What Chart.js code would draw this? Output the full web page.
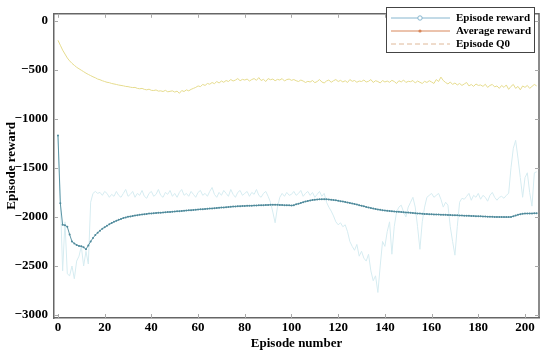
<!DOCTYPE html>
<html>
<head>
<meta charset="utf-8">
<script src="https://cdn.jsdelivr.net/npm/chart.js@4.4.1/dist/chart.umd.min.js"></script>
<style>
  body { margin: 0; background: #fff; }
  #wrap { width: 550px; height: 354px; }
</style>
</head>
<body>
<div id="wrap"><canvas id="chart" width="550" height="354"></canvas></div>
<script>
// Episodes 0..205
const episodes = Array.from({ length: 206 }, (_, i) => i);

const episodeReward = [
  -1170, -1800, -2550, -2050, -2580, -2600, -2500, -2630, -2450, -2400, -2300,
  -2500, -2350, -2480, -1850, -1760, -1740, -1760, -1750, -1780, -1740,
  -1760, -1800, -1770, -1790, -1740, -1780, -1800, -1760, -1720, -1790,
  -1770, -1740, -1800, -1760, -1780, -1730, -1790, -1810, -1760, -1740,
  -1790, -1770, -1720, -1780, -1800, -1750, -1770, -1730, -1790, -1760,
  -1800, -1750, -1720, -1780, -1760, -1790, -1740, -1770, -1800, -1750,
  -1730, -1780, -1760, -1790, -1740, -1700, -1770, -1800, -1750, -1780,
  -1730, -1760, -1790, -1720, -1770, -1800, -1750, -1730, -1780, -1760,
  -1740, -1790, -1750, -1770, -1720, -1780, -1800, -1760, -1740, -1790,
  -1850, -1950, -2060, -1900, -1800, -1760, -1790, -1750, -1780, -1770,
  -1740, -1780, -1760, -1730, -1790, -1760, -1740, -1780, -1750, -1800,
  -1770, -1740, -1790, -1760, -1850, -1900, -1940, -1990, -2050, -2080,
  -2060, -2100, -2080, -2150, -2250, -2300, -2340, -2280, -2400, -2350,
  -2420, -2450, -2380, -2550, -2650, -2600, -2770, -2500, -2250, -2300,
  -2150, -2050, -2380, -2100, -1950, -1900, -1880, -1950, -2000, -1900,
  -1850, -1800, -1900, -2100, -2330, -2050, -1900, -1800, -1780, -1760,
  -1800, -1780, -1760, -1820, -1900, -1850, -1880, -2100, -2250, -2390,
  -2100, -1850, -1810, -1820, -1790, -1760, -1830, -1780, -1800, -1760,
  -1820, -1780, -1800, -1840, -1780, -1750, -1800, -1830, -1800, -1790,
  -1810, -1780, -1760, -1500, -1300, -1220, -1400, -1600, -1800, -1600,
  -1550, -1750, -1890, -1550, -1540
];

const averageReward = [
  -1170, -1860, -2080, -2085, -2100, -2180, -2250, -2270, -2285, -2295, -2300,
  -2310, -2330, -2290, -2250, -2215, -2185, -2160, -2140, -2120, -2105,
  -2090, -2075, -2062, -2050, -2040, -2030, -2020, -2012, -2005, -1998,
  -1995, -1990, -1986, -1982, -1978, -1975, -1972, -1969, -1966, -1964,
  -1962, -1960, -1958, -1957, -1955, -1953, -1951, -1949, -1947, -1945,
  -1943, -1941, -1939, -1937, -1935, -1933, -1931, -1929, -1927, -1925,
  -1923, -1921, -1919, -1917, -1915, -1913, -1911, -1909, -1907, -1905,
  -1903, -1901, -1899, -1897, -1895, -1893, -1891, -1890, -1889, -1888,
  -1887, -1886, -1885, -1884, -1883, -1882, -1881, -1880, -1879, -1878,
  -1877, -1876, -1876, -1877, -1878, -1879, -1880, -1881, -1882, -1884,
  -1880, -1872, -1865, -1857, -1850, -1843, -1837, -1832, -1828, -1825,
  -1823, -1821, -1820, -1819, -1820, -1822, -1825, -1828, -1831, -1835,
  -1839, -1843, -1848, -1853, -1858, -1863, -1868, -1874, -1880, -1886,
  -1892, -1898, -1904, -1910, -1915, -1920, -1924, -1928, -1932, -1935,
  -1938, -1940, -1942, -1944, -1946, -1948, -1950, -1952, -1954, -1956,
  -1958, -1960, -1962, -1964, -1966, -1968, -1970, -1971, -1972, -1973,
  -1974, -1975, -1976, -1977, -1978, -1979, -1980, -1981, -1982, -1983,
  -1984, -1985, -1986, -1987, -1988, -1989, -1990, -1991, -1992, -1993,
  -1994, -1995, -1996, -1997, -1998, -1999, -2000, -2000, -2001, -2001,
  -2002, -2002, -2002, -2000, -1994, -1986, -1978, -1972, -1968, -1966,
  -1965, -1964, -1964, -1963, -1963
];

const episodeQ0 = [
  -200, -250, -300, -340, -380, -410, -435, -455, -475, -490, -505,
  -520, -535, -548, -560, -572, -582, -595, -602, -612, -620,
  -628, -632, -640, -645, -650, -656, -660, -664, -670, -672,
  -678, -682, -680, -690, -694, -690, -700, -705, -698, -710,
  -712, -706, -718, -715, -722, -710, -725, -720, -715, -728,
  -718, -740, -712, -722, -705, -715, -700, -690, -680, -665,
  -672, -650, -660, -640, -648, -630, -642, -620, -635, -615,
  -628, -610, -620, -600, -615, -605, -590, -612, -598, -605,
  -595, -615, -600, -590, -608, -580, -610, -598, -620, -590,
  -602, -595, -612, -598, -605, -590, -615, -600, -595, -608,
  -600, -612, -620, -605, -615, -630, -618, -625, -610, -632,
  -620, -600, -625, -635, -615, -605, -628, -612, -600, -620,
  -608, -625, -612, -630, -600, -618, -610, -628, -615, -620,
  -605, -625, -618, -600, -630, -612, -620, -635, -610, -625,
  -615, -628, -608, -620, -640, -612, -625, -605, -630, -618,
  -622, -610, -635, -615, -628, -640, -618, -630, -612, -625,
  -640, -600, -620, -575, -610, -630, -645, -625, -650, -635,
  -655, -640, -660, -645, -630, -665, -650, -670, -645, -660,
  -655, -670, -648, -680, -660, -650, -675, -665, -690, -660,
  -680, -655, -700, -670, -650, -690, -670, -705, -665, -680,
  -660, -690, -670, -650, -665
];

const xTicks = [0, 20, 40, 60, 80, 100, 120, 140, 160, 180, 200];
const yTicks = [0, -500, -1000, -1500, -2000, -2500, -3000];
const legendLabels = ['Episode reward', 'Average reward', 'Episode Q0'];

const FONT = "'Liberation Serif', 'Times New Roman', serif";
const toPoints = (vals) => episodes.map((e, i) => ({ x: e, y: vals[i] }));
const minus = (v) => (v < 0 ? '\u2212' + Math.abs(v) : String(v));

// box around the plot + small inward ticks (MATLAB look)
const frame = {
  id: 'frame',
  afterDraw(chart) {
    const { ctx, chartArea: a, scales } = chart;
    ctx.save();
    ctx.strokeStyle = '#666';
    ctx.lineWidth = 1.5;
    ctx.beginPath();
    ctx.moveTo(a.left, a.top);
    ctx.lineTo(a.right, a.top);
    ctx.lineTo(a.right, a.bottom);
    ctx.stroke();
    ctx.strokeStyle = '#aaa';
    ctx.lineWidth = 1;
    ctx.beginPath();
    xTicks.forEach((t) => {
      const x = Math.round(scales.x.getPixelForValue(t)) + 0.5;
      ctx.moveTo(x, a.bottom); ctx.lineTo(x, a.bottom - 4);
      ctx.moveTo(x, a.top); ctx.lineTo(x, a.top + 4);
    });
    yTicks.forEach((t) => {
      const y = Math.round(scales.y.getPixelForValue(t)) + 0.5;
      ctx.moveTo(a.left, y); ctx.lineTo(a.left + 4, y);
      ctx.moveTo(a.right, y); ctx.lineTo(a.right - 4, y);
    });
    ctx.stroke();
    ctx.restore();
  }
};

// legend as drawn by MATLAB: line sample with marker, boxed
const legendBox = {
  id: 'legendBox',
  afterDraw(chart) {
    const ctx = chart.ctx;
    const left = 386, top = 7, w = 148, h = 45;
    ctx.save();
    ctx.fillStyle = '#fff';
    ctx.fillRect(left, top, w, h);
    ctx.strokeStyle = '#444';
    ctx.lineWidth = 1;
    ctx.strokeRect(left + 0.5, top + 0.5, w, h);
    const styles = [
      { color: '#86b6cf', dash: [], marker: 'circle' },
      { color: '#d8875a', dash: [], marker: 'dot' },
      { color: '#dfb898', dash: [5, 3], marker: null }
    ];
    legendLabels.forEach((label, i) => {
      const y = top + 11 + i * 13;
      const s = styles[i];
      ctx.strokeStyle = s.color;
      ctx.lineWidth = 1;
      ctx.setLineDash(s.dash);
      ctx.beginPath();
      ctx.moveTo(left + 5, y);
      ctx.lineTo(left + 64, y);
      ctx.stroke();
      ctx.setLineDash([]);
      if (s.marker === 'circle') {
        ctx.fillStyle = '#fff';
        ctx.beginPath();
        ctx.arc(left + 34, y, 2.2, 0, Math.PI * 2);
        ctx.fill();
        ctx.stroke();
      } else if (s.marker === 'dot') {
        ctx.fillStyle = s.color;
        ctx.beginPath();
        ctx.arc(left + 34, y, 1.6, 0, Math.PI * 2);
        ctx.fill();
      }
      ctx.fillStyle = '#000';
      ctx.font = 'bold 11px ' + FONT;
      ctx.textBaseline = 'middle';
      ctx.textAlign = 'left';
      ctx.fillText(label, left + 70, y + 0.5);
    });
    ctx.restore();
  }
};

const tickFont = { family: FONT, size: 13, weight: 700 };
const titleFont = { family: FONT, size: 13, weight: 700 };

new Chart(document.getElementById('chart'), {
  type: 'line',
  data: {
    datasets: [
      {
        label: 'Average reward',
        data: toPoints(averageReward),
        borderColor: '#5d95a5',
        borderWidth: 1,
        pointRadius: 1,
        pointBackgroundColor: '#4f8a9b',
        pointBorderWidth: 0,
        tension: 0
      },
      {
        label: 'Episode Q0',
        data: toPoints(episodeQ0),
        borderColor: '#e6dc8e',
        borderWidth: 1,
        pointRadius: 0,
        tension: 0
      },
      {
        label: 'Episode reward',
        data: toPoints(episodeReward),
        borderColor: '#d6ecf1',
        borderWidth: 1,
        pointRadius: 0,
        tension: 0
      }
    ]
  },
  options: {
    responsive: false,
    animation: false,
    devicePixelRatio: 1,
    layout: { padding: { top: 5, right: 11, left: 0, bottom: 0 } },
    plugins: { legend: { display: false }, tooltip: { enabled: false } },
    scales: {
      x: {
        type: 'linear',
        min: -1.7,
        max: 206,
        afterFit: (s) => { s.height = 36; },
        afterBuildTicks: (s) => { s.ticks = xTicks.map((v) => ({ value: v })); },
        grid: { display: false, drawTicks: false },
        border: { color: '#666', width: 1.5 },
        ticks: { padding: 2, color: '#000', font: tickFont, maxRotation: 0 },
        title: { display: true, text: 'Episode number', color: '#000', padding: 3, font: titleFont }
      },
      y: {
        min: -3030,
        max: 70,
        afterFit: (s) => { s.width = 54; },
        afterBuildTicks: (s) => { s.ticks = yTicks.map((v) => ({ value: v })); },
        grid: { display: false, drawTicks: false },
        border: { color: '#666', width: 1.5 },
        ticks: { padding: 6, color: '#000', font: tickFont, callback: (v) => minus(v) },
        title: { display: true, text: 'Episode reward', color: '#000', padding: 4, font: titleFont }
      }
    }
  },
  plugins: [frame, legendBox]
});
</script>
</body>
</html>
